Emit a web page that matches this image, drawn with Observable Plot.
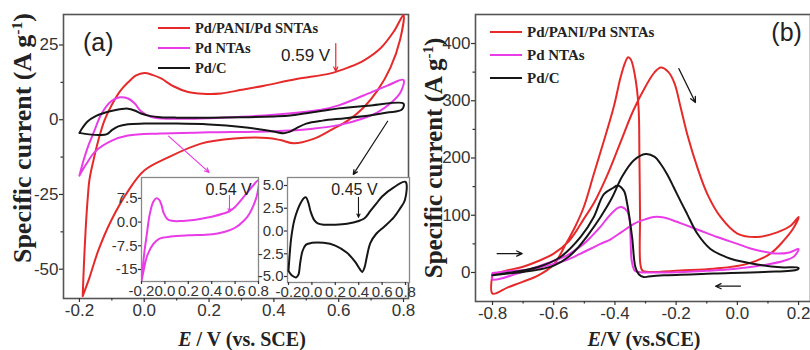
<!DOCTYPE html>
<html><head><meta charset="utf-8">
<script src="https://cdn.jsdelivr.net/npm/d3@7"></script>
<script src="https://cdn.jsdelivr.net/npm/@observablehq/plot@0.6"></script>
<style>
body{margin:0;background:#fff;}
#fig{position:relative;width:810px;height:350px;overflow:hidden;background:#fff;}
.ylab{position:absolute;font-family:"Liberation Serif","Times New Roman",serif;font-weight:bold;white-space:nowrap;transform:translate(-50%,-50%) rotate(-90deg);color:#222;line-height:normal;}
.xlab{position:absolute;font-family:"Liberation Serif","Times New Roman",serif;font-weight:bold;font-size:20px;white-space:nowrap;transform:translate(-50%,-50%);color:#222;line-height:normal;}
.leg{position:absolute;font-family:"Liberation Serif","Times New Roman",serif;font-weight:bold;white-space:nowrap;color:#222;display:flex;align-items:center;height:20px;}
.leg span.sw{display:inline-block;width:32px;height:2px;margin-right:5px;}
sup{font-size:60%;}
</style></head><body><div id="fig"></div>
<script>
// ---------- series names / colours ----------
const seriesNames = ["Pd/PANI/Pd SNTAs", "Pd NTAs", "Pd/C"];
const seriesColors = ["#e62a2a", "#e93ce8", "#161616"];

// ---------- panel (a): CV in KOH, [E (V vs SCE), I (A g-1)] ----------
const aPANI = [[-0.19,-59],[-0.186,-48],[-0.181,-37],[-0.175,-27],[-0.169,-20],[-0.157,-13.7],[-0.142,-7],[-0.123,-0.3],[-0.1,5],[-0.075,9.5],[-0.049,12.6],[-0.025,14.8],[0,15.6],[0.025,15],[0.052,13.8],[0.09,11.2],[0.135,9.3],[0.18,8.7],[0.237,8.8],[0.3,10],[0.37,11.4],[0.47,13.6],[0.575,15.5],[0.63,17.5],[0.677,19.8],[0.73,24],[0.77,29.5],[0.8,35],
  [0.79,27],[0.76,17.5],[0.72,9.8],[0.677,4.1],[0.628,-0.3],[0.58,-3.2],[0.52,-6.5],[0.462,-7.9],[0.42,-6.8],[0.38,-6.1],[0.277,-6.3],[0.175,-8],[0.074,-12.6],[0,-17],[-0.049,-23.7],[-0.102,-33.7],[-0.142,-43.8],[-0.169,-52.8],[-0.19,-59]];
const aNTA = [[-0.2,-18.7],[-0.187,-13.5],[-0.172,-8.5],[-0.155,-4],[-0.132,2],[-0.102,6.2],[-0.075,7.5],[-0.05,7.1],[-0.03,5.5],[-0.01,2.8],[0.02,1],[0.06,0.4],[0.12,0.3],[0.2,0.5],[0.3,1.0],[0.4,1.7],[0.5,2.7],[0.55,3.4],[0.6,4.8],[0.677,8.1],[0.75,11.4],[0.8,13.3],
  [0.79,9],[0.76,5.5],[0.72,2.5],[0.677,0.5],[0.6,-1.8],[0.52,-3],[0.45,-3.6],[0.35,-4],[0.2,-4.2],[0.05,-4.6],[-0.05,-5.3],[-0.1,-7],[-0.15,-10.5],[-0.18,-15],[-0.2,-18.7]];
const aPdC = [[-0.2,-4.4],[-0.19,-2.6],[-0.175,-0.6],[-0.15,1.2],[-0.12,2.4],[-0.095,3.1],[-0.07,3.6],[-0.05,3.7],[-0.03,3.1],[-0.01,2.1],[0.02,1.2],[0.05,0.85],[0.1,0.7],[0.2,0.7],[0.3,0.8],[0.4,1.1],[0.45,1.4],[0.5,2.2],[0.55,3.0],[0.6,3.8],[0.7,4.8],[0.8,5.4],
  [0.795,3.4],[0.75,2.4],[0.7,1.5],[0.62,0.5],[0.55,-0.3],[0.5,-1.3],[0.47,-2.8],[0.45,-4],[0.43,-4.5],[0.41,-4.2],[0.37,-3.4],[0.3,-2.4],[0.2,-1.6],[0.1,-1.3],[0.0,-1.3],[-0.05,-1.5],[-0.08,-2.2],[-0.1,-3.5],[-0.115,-4.8],[-0.135,-5.1],[-0.17,-4.9],[-0.2,-4.4]];

// ---------- panel (b): ethanol oxidation ----------
const bPANI = [[-0.8,-3],[-0.75,4],[-0.7,10],[-0.65,20],[-0.6,33],[-0.55,55],[-0.5,95],[-0.465,125],[-0.425,170],[-0.38,230],[-0.34,283],[-0.3,325],[-0.27,350],[-0.25,358],[-0.225,350],[-0.205,330],[-0.186,290],[-0.164,242],[-0.131,184],[-0.098,137],[-0.055,97],[0,68],[0.065,62],[0.13,70],[0.175,82],[0.2,97],
  [0.185,79],[0.152,56],[0.108,33],[0.032,15],[-0.077,6.5],[-0.186,3.5],[-0.29,1],[-0.31,3],[-0.317,15],[-0.318,100],[-0.32,200],[-0.323,290],[-0.335,345],[-0.348,372],[-0.357,376],[-0.368,365],[-0.382,340],[-0.404,289],[-0.436,230],[-0.469,172],[-0.502,114],[-0.53,80],[-0.56,50],[-0.6,14],[-0.65,-5],[-0.7,-16],[-0.75,-26],[-0.8,-37],[-0.8,-3]];
const bNTA = [[-0.8,-1],[-0.75,2],[-0.7,4],[-0.65,8],[-0.6,15],[-0.556,22],[-0.512,33],[-0.447,50],[-0.414,58],[-0.38,70],[-0.338,85],[-0.3,93],[-0.273,97],[-0.24,96],[-0.2,89],[-0.175,84],[-0.12,73],[-0.066,62],[0,50],[0.043,42],[0.09,36],[0.131,33],[0.17,35],[0.2,41],
  [0.185,28],[0.15,20],[0.098,14],[0.05,10],[-0.011,6],[-0.1,3],[-0.175,1],[-0.25,0],[-0.317,0.5],[-0.335,3],[-0.345,20],[-0.349,60],[-0.352,92],[-0.36,107],[-0.376,114],[-0.39,113],[-0.404,107],[-0.425,95],[-0.447,80],[-0.475,64],[-0.502,50],[-0.556,30],[-0.6,20],[-0.665,8],[-0.72,-2],[-0.8,-12],[-0.8,-1]];
const bPdC = [[-0.8,-5],[-0.75,-2],[-0.7,1],[-0.65,5],[-0.6,12],[-0.55,28],[-0.52,44],[-0.49,64],[-0.447,97],[-0.41,130],[-0.376,168],[-0.338,196],[-0.3,207],[-0.27,202],[-0.251,190],[-0.23,172],[-0.208,149],[-0.186,125],[-0.164,102],[-0.131,68],[-0.088,41],[-0.05,30],[-0.022,24],[0.065,14],[0.141,9],[0.2,8],
  [0.196,5],[0.087,1],[-0.077,-2],[-0.24,-5],[-0.29,-7],[-0.306,-8],[-0.322,-3],[-0.333,9],[-0.344,62],[-0.36,120],[-0.371,143],[-0.392,152],[-0.405,148],[-0.436,137],[-0.469,97],[-0.512,62],[-0.578,27],[-0.654,9],[-0.73,1],[-0.8,-5]];

// ---------- ticks ----------
const aXTicks = [-0.2, 0, 0.2, 0.4, 0.6, 0.8], aXLabels = ["-0.2","0.0","0.2","0.4","0.6","0.8"], aXMinor = [-0.1, 0.1, 0.3, 0.5, 0.7];
const aYTicks = [25, 0, -25, -50], aYLabels = ["25","0","-25","-50"], aYMinor = [12.5, -12.5, -37.5];
const bXTicks = [-0.8, -0.6, -0.4, -0.2, 0, 0.2], bXLabels = ["-0.8","-0.6","-0.4","-0.2","0.0","0.2"], bXMinor = [-0.7, -0.5, -0.3, -0.1, 0.1];
const bYTicks = [0, 100, 200, 300, 400], bYLabels = ["0","100","200","300","400"], bYMinor = [50, 150, 250, 350];
const inXTicks = [-0.2, 0, 0.2, 0.4, 0.6, 0.8], inXLabels = ["-0.2","0.0","0.2","0.4","0.6","0.8"];
const in1YTicks = [7.5, 0, -7.5, -15], in1YLabels = ["7.5","0.0","-7.5","-15"];
const in2YTicks = [5, 2.5, 0, -2.5, -5], in2YLabels = ["5.0","2.5","0.0","-2.5","-5.0"];

// ---------- annotations ----------
const aArrows = [{x1:0.591,y1:25.5,x2:0.591,y2:16.2,c:0},{x1:0.075,y1:-5.5,x2:0.2,y2:-17.6,c:1},{x1:0.751,y1:-0.5,x2:0.645,y2:-18.3,c:2}];
const aNotes = [{x:-0.142,y:25.5,t:"(a)",s:25},{x:0.498,y:21.4,t:"0.59 V",s:17}];
const in1Arrows = [{x1:0.552,y1:8.4,x2:0.552,y2:3.2,c:1}];
const in1Notes = [{x:0.544,y:10.3,t:"0.54 V",s:16}];
const in2Arrows = [{x1:0.398,y1:3.7,x2:0.398,y2:1.5,c:2}];
const in2Notes = [{x:0.364,y:4.56,t:"0.45 V",s:16}];
const bArrows = [{x1:-0.191,y1:356,x2:-0.137,y2:297,c:2},{x1:-0.785,y1:33,x2:-0.703,y2:33,c:2},{x1:0.01,y1:-24,x2:-0.071,y2:-24,c:2}];
const bNotes = [{x:0.161,y:418,t:"(b)",s:25}];

// ---------- build ----------
const fig = document.getElementById("fig");
const FONT = "'Liberation Sans', Arial, Helvetica, sans-serif";
function place(el, left, top) { el.style.position = "absolute"; el.style.left = left + "px"; el.style.top = top + "px"; fig.appendChild(el); }
const lbl = (ticks, labels) => { const m = new Map(ticks.map((t, i) => [t, labels[i]])); return d => (m.has(d) ? m.get(d) : ""); };
const line = (data, ci, w = 2) => Plot.line(data, {x: d => d[0], y: d => d[1], stroke: seriesColors[ci], strokeWidth: w, curve: "catmull-rom", clip: true});
const arrows = (data, w = 1.2, h = 6) => Plot.arrow(data, {x1: "x1", y1: "y1", x2: "x2", y2: "y2", stroke: d => seriesColors[d.c], strokeWidth: w, headLength: h, headAngle: 50});
const notes = (data) => data.map(d => Plot.text([d], {x: "x", y: "y", text: "t", fontSize: d.s, fill: "#222", fontFamily: FONT}));
function axes(xt, xl, xm, yt, yl, ym, size, tick) {
  const m = [
    Plot.axisX({ticks: xt, tickFormat: lbl(xt, xl), tickSize: tick, tickPadding: 1, fontSize: size, label: null, strokeWidth: 1.2}),
    Plot.axisY({ticks: yt, tickFormat: lbl(yt, yl), tickSize: tick, tickPadding: 1, fontSize: size, label: null, strokeWidth: 1.2})
  ];
  if (xm) m.push(Plot.axisX({ticks: xm, tickFormat: () => "", tickSize: 2.5, label: null, strokeWidth: 1.2}));
  if (ym) m.push(Plot.axisY({ticks: ym, tickFormat: () => "", tickSize: 2.5, label: null, strokeWidth: 1.2}));
  return m;
}
const baseStyle = (size) => ({background: "transparent", fontFamily: FONT, fontSize: size + "px", color: "#333", overflow: "visible"});

// panel a
const pa = Plot.plot({
  width: 410, height: 350, marginLeft: 63, marginRight: 2, marginTop: 14, marginBottom: 52,
  style: baseStyle(17),
  x: {domain: [-0.2492, 0.8154]}, y: {domain: [-59.8, 35.2]},
  marks: [
    Plot.frame({stroke: "#555", strokeWidth: 1.6}),
    line(aPANI, 0), line(aNTA, 1), line(aPdC, 2),
    arrows(aArrows),
    ...notes(aNotes),
    ...axes(aXTicks, aXLabels, aXMinor, aYTicks, aYLabels, aYMinor, 17, 4)
  ]
});
place(pa, 0, 0);

// panel b
const pb = Plot.plot({
  width: 400, height: 350, marginLeft: 65, marginRight: 0, marginTop: 14, marginBottom: 49,
  style: baseStyle(17),
  x: {domain: [-0.8556, 0.239]}, y: {domain: [-50.7, 450.7]},
  marks: [
    Plot.frame({stroke: "#555", strokeWidth: 1.6}),
    line(bPANI, 0), line(bNTA, 1), line(bPdC, 2),
    arrows(bArrows, 1.3, 7),
    ...notes(bNotes),
    ...axes(bXTicks, bXLabels, bXMinor, bYTicks, bYLabels, bYMinor, 17, 4)
  ]
});
place(pb, 410, 0);

// inset 1 (Pd NTAs)
const i1 = Plot.plot({
  width: 165, height: 135, marginLeft: 41, marginRight: 7, marginTop: 7, marginBottom: 24,
  style: baseStyle(15),
  x: {domain: [-0.2, 0.8]}, y: {domain: [-18.8, 14.1]},
  marks: [
    Plot.frame({fill: "white", stroke: "#888", strokeWidth: 1.3}),
    line(aNTA, 1, 2),
    arrows(in1Arrows, 1.1, 5),
    ...notes(in1Notes),
    ...axes(inXTicks, inXLabels, null, in1YTicks, in1YLabels, null, 15, 3)
  ]
});
place(i1, 100, 170);

// inset 2 (Pd/C)
const i2 = Plot.plot({
  width: 160, height: 135, marginLeft: 32, marginRight: 6, marginTop: 7, marginBottom: 23,
  style: baseStyle(15),
  x: {domain: [-0.2085, 0.834]}, y: {domain: [-5.66, 5.88]},
  marks: [
    Plot.frame({fill: "white", stroke: "#888", strokeWidth: 1.3}),
    line(aPdC, 2, 2),
    arrows(in2Arrows, 1.1, 5),
    ...notes(in2Notes),
    ...axes(inXTicks, inXLabels, null, in2YTicks, in2YLabels, null, 15, 3)
  ]
});
place(i2, 255, 170);

// axis titles
function addDiv(cls, html, left, top, size) {
  const d = document.createElement("div"); d.className = cls; d.innerHTML = html;
  d.style.left = left + "px"; d.style.top = top + "px"; if (size) d.style.fontSize = size + "px";
  fig.appendChild(d);
}
const yTitle = "Specific current (A g<sup>-1</sup>)";
addDiv("ylab", yTitle, 22.5, 138, 26);
addDiv("ylab", yTitle, 433.5, 158, 25);
addDiv("xlab", "<i>E</i> / V (vs. SCE)", 242, 339);
addDiv("xlab", "<i>E</i>/V (vs.SCE)", 644, 339);

// legends
function legend(left, firstY, step, size) {
  seriesNames.forEach((n, i) => {
    const d = document.createElement("div"); d.className = "leg";
    d.style.left = left + "px"; d.style.top = (firstY + i * step - 10) + "px"; d.style.fontSize = size + "px";
    d.innerHTML = `<span class="sw" style="background:${seriesColors[i]}"></span>${n}`;
    fig.appendChild(d);
  });
}
legend(158, 28, 20, 14.5);
legend(490, 32, 23, 15);
</script>
</body></html>
